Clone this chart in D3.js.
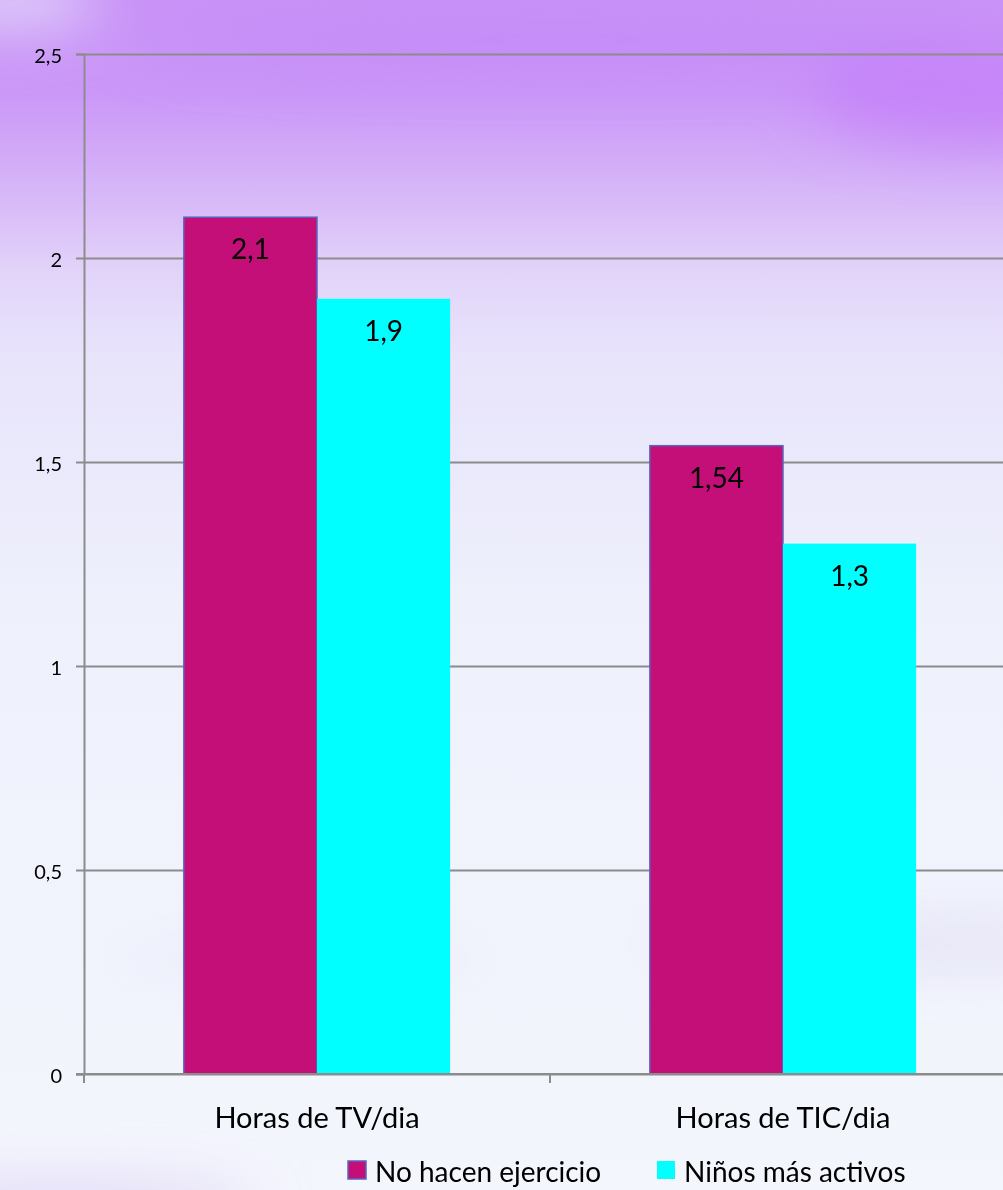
<!DOCTYPE html>
<html>
<head>
<meta charset="utf-8">
<script src="https://cdn.jsdelivr.net/npm/d3@7"></script>
<style>
  html, body { margin: 0; padding: 0; overflow: hidden; }
  svg { display: block; }
  text { font-family: Lato, "Open Sans", sans-serif; fill: #000; }
</style>
</head>
<body>
<svg id="chart" width="1003" height="1190"></svg>
<script>
// chart data
const categories = ["Horas de TV/dia", "Horas de TIC/dia"];
const seriesNames = ["No hacen ejercicio", "Niños más activos"];
const noEjercicio = [2.1, 1.54];
const masActivos = [1.9, 1.3];
const yTicks = [0, 0.5, 1, 1.5, 2, 2.5];
const colors = ["#c40e78", "#00ffff"];

const W = 1003, H = 1190;
const margin = {top: 54, left: 84, bottom: 116};
const plotW = 932; // right edge runs past the window
const plotH = H - margin.top - margin.bottom;

const svg = d3.select("#chart");
const defs = svg.append("defs");

// background: purple wash fading to white
const grad = defs.append("linearGradient").attr("id", "bg").attr("x1", 0).attr("y1", 0).attr("x2", 0).attr("y2", 1);
[[0, "#c993f7"], [0.08, "#cb98f8"], [0.13, "#d2aaf8"], [0.18, "#dabef8"], [0.23, "#e2d4f9"], [0.3, "#e8e4fb"], [0.5, "#eef0fc"], [1, "#f4f6fd"]]
  .forEach(([o, c]) => grad.append("stop").attr("offset", o).attr("stop-color", c));
defs.append("filter").attr("id", "blur").attr("x", "-50%").attr("y", "-50%").attr("width", "200%").attr("height", "200%")
  .append("feGaussianBlur").attr("stdDeviation", 28);

svg.append("rect").attr("width", W).attr("height", H).attr("fill", "url(#bg)");
const wash = svg.append("g").attr("filter", "url(#blur)");
wash.append("ellipse").attr("cx", 560).attr("cy", 40).attr("rx", 420).attr("ry", 28).attr("fill", "#c286f8").attr("opacity", 0.7);
wash.append("ellipse").attr("cx", 980).attr("cy", 95).attr("rx", 170).attr("ry", 50).attr("fill", "#c47ff8").attr("opacity", 0.75);
wash.append("ellipse").attr("cx", 10).attr("cy", 0).attr("rx", 90).attr("ry", 30).attr("fill", "#e2d6fa").attr("opacity", 0.9);
wash.append("ellipse").attr("cx", 900).attr("cy", 945).attr("rx", 260).attr("ry", 18).attr("fill", "#dcdaf3").attr("opacity", 0.8);
wash.append("ellipse").attr("cx", 300).attr("cy", 960).attr("rx", 200).attr("ry", 14).attr("fill", "#e4e4f6").attr("opacity", 0.7);
wash.append("ellipse").attr("cx", 60).attr("cy", 1205).attr("rx", 200).attr("ry", 20).attr("fill", "#d7c8f4").attr("opacity", 0.8);

const x0 = d3.scaleBand().domain(categories).range([margin.left, margin.left + plotW]).paddingInner(0).paddingOuter(0);
const gapRatio = 1.5; // Excel gap width 150%
const barW = x0.bandwidth() / (seriesNames.length + gapRatio);
const x1 = d3.scaleBand().domain(seriesNames)
  .range([barW * gapRatio / 2, barW * gapRatio / 2 + barW * seriesNames.length]);
const y = d3.scaleLinear().domain([0, 2.5]).range([margin.top + plotH, margin.top]);

const locale = d3.formatLocale({decimal: ",", thousands: ".", grouping: [3], currency: ["", "€"]});
const fmt = v => locale.format("")(v);

// gridlines
svg.append("g")
  .attr("transform", `translate(${margin.left},0)`)
  .call(d3.axisLeft(y).tickValues(yTicks).tickSize(-plotW).tickFormat(""))
  .call(g => g.select(".domain").remove())
  .call(g => g.selectAll("line").attr("stroke", "#8c8c8c").attr("stroke-width", 2));

// y axis
svg.append("g")
  .attr("transform", `translate(${margin.left},0)`)
  .call(d3.axisLeft(y).tickValues(yTicks).tickSize(8).tickPadding(14).tickFormat(fmt))
  .call(g => g.select(".domain").attr("stroke", "#8c8c8c").attr("stroke-width", 2))
  .call(g => g.selectAll("line").attr("stroke", "#8c8c8c").attr("stroke-width", 2))
  .call(g => g.selectAll("text").style("font-size", "20px").attr("dy", "0.4em"));

// bars
const rows = categories.map((c, i) => ({cat: c, vals: [noEjercicio[i], masActivos[i]]}));
const grp = svg.append("g").selectAll("g").data(rows).join("g")
  .attr("transform", d => `translate(${x0(d.cat)},0)`);
grp.selectAll("rect").data(d => d.vals.map((v, j) => ({s: seriesNames[j], v, j}))).join("rect")
  .attr("x", d => x1(d.s))
  .attr("y", d => y(d.v))
  .attr("width", x1.bandwidth())
  .attr("height", d => y(0) - y(d.v))
  .attr("fill", d => colors[d.j])
  .attr("stroke", d => d.j === 0 ? "#5a64c0" : "none")
  .attr("stroke-width", 1.5);
grp.selectAll("text.val").data(d => d.vals.map((v, j) => ({s: seriesNames[j], v}))).join("text")
  .attr("class", "val")
  .attr("x", d => x1(d.s) + x1.bandwidth() / 2)
  .attr("y", d => y(d.v) + 42)
  .attr("text-anchor", "middle")
  .style("font-size", "28px")
  .text(d => fmt(d.v));

// x axis
svg.append("g")
  .attr("transform", `translate(0,${y(0)})`)
  .call(d3.axisBottom(x0).tickSize(0).tickPadding(0))
  .call(g => g.select(".domain").remove())
  .call(g => g.selectAll("text").attr("dy", null).attr("y", 54).style("font-size", "29px"));
svg.append("line")
  .attr("x1", margin.left - 8).attr("x2", margin.left + plotW)
  .attr("y1", y(0)).attr("y2", y(0))
  .attr("stroke", "#8c8c8c").attr("stroke-width", 2);
svg.append("g").selectAll("line").data(categories).join("line")
  .attr("x1", d => x0(d)).attr("x2", d => x0(d))
  .attr("y1", y(0)).attr("y2", y(0) + 9)
  .attr("stroke", "#8c8c8c").attr("stroke-width", 2);

// legend
const legendX = [348, 657];
const leg = svg.append("g").selectAll("g").data(seriesNames).join("g")
  .attr("transform", (d, i) => `translate(${legendX[i]},1161)`);
leg.append("rect").attr("width", 18).attr("height", 18)
  .attr("fill", (d, i) => colors[i])
  .attr("stroke", (d, i) => i === 0 ? "#5a64c0" : "none").attr("stroke-width", 1.5);
leg.append("text").attr("x", 27).attr("y", 21).style("font-size", "28px").text(d => d);
</script>
</body>
</html>
